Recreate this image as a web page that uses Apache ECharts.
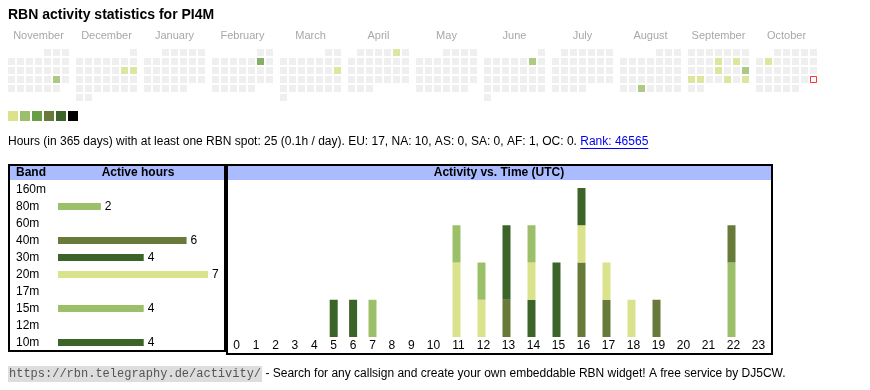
<!DOCTYPE html>
<html><head><meta charset="utf-8">
<script src="https://cdn.jsdelivr.net/npm/echarts@6/dist/echarts.min.js"></script>
<style>html,body{margin:0;padding:0;background:#fff}#c{width:870px;height:390px}</style>
</head><body><div id="c"></div>
<script>
// ---------------- data ----------------
const titleText = 'RBN activity statistics for PI4M';
const monthNames = ['November','December','January','February','March','April','May','June','July','August','September','October'];
const monthYears = [2024,2024,2025,2025,2025,2025,2025,2025,2025,2025,2025,2025];
const monthNums  = [10,11,0,1,2,3,4,5,6,7,8,9]; // JS month numbers
const activeDates  = ['2024-11-23','2024-12-14','2024-12-15','2025-02-08','2025-03-16','2025-04-05','2025-06-07','2025-08-27','2025-09-11','2025-09-13','2025-09-18','2025-09-21','2025-09-22','2025-09-23','2025-09-26','2025-09-28','2025-10-07'];
const activeLevels = [2,1,1,3,1,1,2,2,1,1,1,2,1,1,1,1,1];
const todayDate = '2025-10-26';
const levelValues = [1,2,3,4,5,6];
const levelColors = ['#dae28b','#9cc069','#6a9e45','#677a39','#3c6428','#000000'];

const totalHours = 25;
const hoursPerDay = '0.1';
const continentNames  = ['EU','NA','AS','SA','AF','OC'];
const continentCounts = [17,10,0,0,1,0];
const rankValue = 46565;

const bands      = ['160m','80m','60m','40m','30m','20m','17m','15m','12m','10m'];
const bandHours  = [0,2,0,6,4,7,0,4,0,4];
const bandColors = ['#9cc069','#9cc069','#6a9e45','#677a39','#3c6428','#dae28b','#6a9e45','#9cc069','#677a39','#3c6428'];

const hourLabels = ['0','1','2','3','4','5','6','7','8','9','10','11','12','13','14','15','16','17','18','19','20','21','22','23'];
const hours160m = [0,0,0,0,0,0,0,0,0,0,0,0,0,0,0,0,0,0,0,0,0,0,0,0];
const hours80m  = [0,0,0,0,0,0,0,0,0,0,0,0,0,0,0,0,0,0,0,0,0,0,2,0];
const hours60m  = [0,0,0,0,0,0,0,0,0,0,0,0,0,0,0,0,0,0,0,0,0,0,0,0];
const hours40m  = [0,0,0,0,0,0,0,0,0,0,0,0,0,1,0,0,2,1,0,1,0,0,1,0];
const hours30m  = [0,0,0,0,0,1,0,0,0,0,0,0,0,2,1,0,0,0,0,0,0,0,0,0];
const hours20m  = [0,0,0,0,0,0,0,0,0,0,0,2,1,0,1,0,1,1,1,0,0,0,0,0];
const hours17m  = [0,0,0,0,0,0,0,0,0,0,0,0,0,0,0,0,0,0,0,0,0,0,0,0];
const hours15m  = [0,0,0,0,0,0,0,1,0,0,0,1,1,0,1,0,0,0,0,0,0,0,0,0];
const hours12m  = [0,0,0,0,0,0,0,0,0,0,0,0,0,0,0,0,0,0,0,0,0,0,0,0];
const hours10m  = [0,0,0,0,0,0,1,0,0,0,0,0,0,0,0,2,1,0,0,0,0,0,0,0];
const hourlyByBand = [hours160m,hours80m,hours60m,hours40m,hours30m,hours20m,hours17m,hours15m,hours12m,hours10m];

const footerUrl = 'https://rbn.telegraphy.de/activity/';
const footerText = ' - Search for any callsign and create your own embeddable RBN widget! A free service by DJ5CW.';

// ---------------- layout ----------------
const FONT = "'Liberation Sans', Arial, sans-serif";
const CELL = 9, CELL_SIZE = 7, MONTH_SPAN = 68;
const pad = n => (n < 10 ? '0' : '') + n;

const cells = [];
monthNames.forEach((mn, m) => {
  const y = monthYears[m], mo = monthNums[m];
  const first = (new Date(Date.UTC(y, mo, 1)).getUTCDay() + 6) % 7;
  const nd = new Date(Date.UTC(y, mo + 1, 0)).getUTCDate();
  for (let d = 1; d <= nd; d++) {
    const wd = (first + d - 1) % 7, row = Math.floor((first + d - 1) / 7);
    cells.push({ key: y + '-' + pad(mo + 1) + '-' + pad(d), x: m * MONTH_SPAN + wd * CELL + CELL_SIZE / 2, y: row * CELL + CELL_SIZE / 2 });
  }
});
const cellByKey = {}; cells.forEach(c => cellByKey[c.key] = c);
const grayData = cells.filter(c => c.key !== todayDate).map(c => [c.x, c.y]);
const activeData = activeDates.map((k, i) => [cellByKey[k].x, cellByKey[k].y, activeLevels[i]]);
const todayData = [[cellByKey[todayDate].x, cellByKey[todayDate].y]];

const mctx = document.createElement('canvas').getContext('2d');
function tw(t, f) { mctx.font = f; return mctx.measureText(t).width; }

const infoPrefix = 'Hours (in 365 days) with at least one RBN spot: ' + totalHours + ' (' + hoursPerDay + 'h / day). ' +
  continentNames.map((c, i) => c + ': ' + continentCounts[i]).join(', ') + '. ';
const linkText = 'Rank: ' + rankValue;
const INFO_FONT = '12px ' + FONT;
const prefixW = tw(infoPrefix, INFO_FONT);
const linkW = tw(linkText, INFO_FONT);

const series = [
  { type: 'scatter', xAxisIndex: 0, yAxisIndex: 0, symbol: 'rect', symbolSize: CELL_SIZE, data: grayData, itemStyle: { color: '#ebebeb' }, silent: true },
  { type: 'scatter', xAxisIndex: 0, yAxisIndex: 0, symbol: 'rect', symbolSize: CELL_SIZE, data: activeData, silent: true },
  { type: 'scatter', xAxisIndex: 0, yAxisIndex: 0, symbol: 'rect', symbolSize: CELL_SIZE - 1, data: todayData, itemStyle: { color: '#fff', borderColor: '#ff0000', borderWidth: 1 }, silent: true },
  { type: 'bar', xAxisIndex: 2, yAxisIndex: 2, barWidth: 7, silent: true,
    data: bandHours.map((v, i) => ({ value: v, itemStyle: { color: bandColors[i] } })),
    label: { show: true, position: 'right', distance: 4, fontSize: 12, fontFamily: FONT, color: '#000', formatter: p => p.value > 0 ? p.value : '' } }
];
[[0, 10, 3], [10, 24, 4]].forEach(([a, b, ax]) => {
  bands.forEach((band, bi) => {
    series.push({ type: 'bar', name: band, xAxisIndex: ax, yAxisIndex: ax, stack: 'act' + ax, barWidth: 8, silent: true,
      data: hourlyByBand[bi].slice(a, b), itemStyle: { color: bandColors[bi] } });
  });
});

const hiddenVal = (min, max, inv) => ({ type: 'value', min, max, inverse: !!inv, show: false });
const option = {
  animation: false,
  grid: [
    { left: 8, top: 49, width: 12 * MONTH_SPAN, height: 6 * CELL, outerBoundsMode: 'none', containLabel: false },
    { left: 8 - CELL_SIZE / 2, top: 49, width: 12 * MONTH_SPAN, height: 6 * CELL, outerBoundsMode: 'none', containLabel: false },
    { left: 58, top: 181, width: 150, height: 170, outerBoundsMode: 'none', containLabel: false },
    { left: 227, top: 188, width: 194, height: 149, outerBoundsMode: 'none', containLabel: false },
    { left: 419, top: 188, width: 350, height: 149, outerBoundsMode: 'none', containLabel: false }
  ],
  xAxis: [
    Object.assign(hiddenVal(0, 12 * MONTH_SPAN), { gridIndex: 0 }),
    { gridIndex: 1, type: 'category', position: 'top', data: monthNames, axisLine: { show: false }, axisTick: { show: false },
      axisLabel: { interval: 0, margin: 8, color: '#a8a8a8', fontSize: 11, fontFamily: FONT } },
    Object.assign(hiddenVal(0, 7), { gridIndex: 2 }),
    { gridIndex: 3, type: 'category', data: hourLabels.slice(0, 10), axisLine: { show: false }, axisTick: { show: false },
      axisLabel: { interval: 0, margin: 3, color: '#000', fontSize: 12, fontFamily: FONT } },
    { gridIndex: 4, type: 'category', data: hourLabels.slice(10), axisLine: { show: false }, axisTick: { show: false },
      axisLabel: { interval: 0, margin: 3, color: '#000', fontSize: 12, fontFamily: FONT, padding: [0, 0, 0, 4] } }
  ],
  yAxis: [
    Object.assign(hiddenVal(0, 6 * CELL, true), { gridIndex: 0 }),
    Object.assign(hiddenVal(0, 1), { gridIndex: 1 }),
    { gridIndex: 2, type: 'category', inverse: true, data: bands, axisLine: { show: false }, axisTick: { show: false },
      axisLabel: { align: 'left', margin: 42, color: '#000', fontSize: 12, fontFamily: FONT } },
    Object.assign(hiddenVal(0, 4), { gridIndex: 3 }),
    Object.assign(hiddenVal(0, 4), { gridIndex: 4 })
  ],
  visualMap: {
    type: 'piecewise', seriesIndex: 1, dimension: 2, orient: 'horizontal', left: 8, top: 111, padding: 0,
    itemWidth: 10, itemHeight: 10, itemGap: 2, itemSymbol: 'rect', showLabel: false, selectedMode: false, hoverLink: false,
    pieces: levelValues.map((v, i) => ({ value: v, color: levelColors[i] }))
  },
  graphic: [
    { type: 'text', x: 8, y: 15, style: { text: titleText, font: 'bold 14px ' + FONT, fill: '#000', textAlign: 'left', textVerticalAlign: 'middle', verticalAlign: 'middle' } },
    { type: 'text', x: 8, y: 142, style: { text: infoPrefix, font: INFO_FONT, fill: '#000', textVerticalAlign: 'middle', verticalAlign: 'middle' } },
    { type: 'text', x: 8 + prefixW, y: 142, style: { text: linkText, font: INFO_FONT, fill: '#0000ee', textVerticalAlign: 'middle', verticalAlign: 'middle' } },
    { type: 'line', shape: { x1: 8 + prefixW, y1: 148.5, x2: 8 + prefixW + linkW, y2: 148.5 }, style: { stroke: '#0000ee', lineWidth: 1 } },
    { type: 'rect', shape: { x: 10, y: 166, width: 214, height: 14 }, style: { fill: '#aabbff' } },
    { type: 'rect', shape: { x: 228, y: 166, width: 543, height: 14 }, style: { fill: '#aabbff' } },
    { type: 'rect', shape: { x: 9, y: 165, width: 216, height: 186 }, style: { fill: 'none', stroke: '#000', lineWidth: 2 } },
    { type: 'rect', shape: { x: 227, y: 165, width: 545, height: 189 }, style: { fill: 'none', stroke: '#000', lineWidth: 2 } },
    { type: 'text', x: 16, y: 173, style: { text: 'Band', font: 'bold 12px ' + FONT, fill: '#000', textVerticalAlign: 'middle', verticalAlign: 'middle' } },
    { type: 'text', x: 138, y: 173, style: { text: 'Active hours', font: 'bold 12px ' + FONT, fill: '#000', textAlign: 'center', textVerticalAlign: 'middle', verticalAlign: 'middle' } },
    { type: 'text', x: 499, y: 173, style: { text: 'Activity vs. Time (UTC)', font: 'bold 12px ' + FONT, fill: '#000', textAlign: 'center', textVerticalAlign: 'middle', verticalAlign: 'middle' } },
    { type: 'text', x: 8, y: 374, style: {
        text: '{u|' + footerUrl + '}{t|' + footerText + '}', verticalAlign: 'middle', textVerticalAlign: 'middle',
        rich: {
          u: { fontFamily: "'Liberation Mono', monospace", fontSize: 12, fill: '#555', color: '#555', backgroundColor: '#dddddd', padding: [2, 1, 2, 1] },
          t: { fontFamily: FONT, fontSize: 12, fill: '#000', color: '#000' }
        } } }
  ],
  series
};
const chart = echarts.init(document.getElementById('c'), null, { renderer: 'canvas', width: 870, height: 390 });
chart.setOption(option);
</script></body></html>
